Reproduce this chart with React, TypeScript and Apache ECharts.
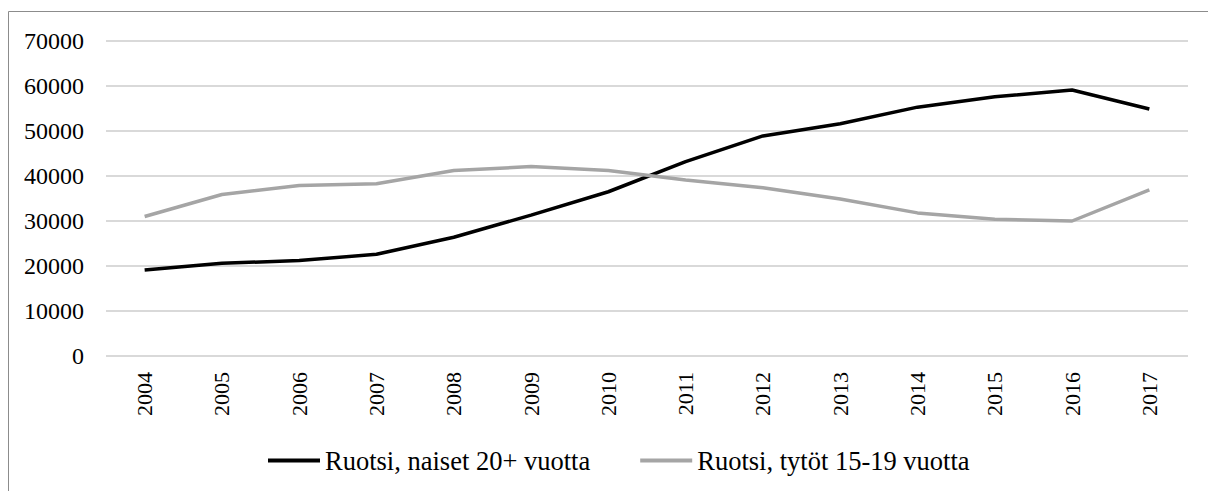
import React, { useEffect, useRef } from "react";
import * as echarts from "echarts";

const years = ["2004", "2005", "2006", "2007", "2008", "2009", "2010", "2011", "2012", "2013", "2014", "2015", "2016", "2017"];
const naiset = [19100, 20600, 21200, 22600, 26400, 31300, 36500, 43200, 48900, 51600, 55300, 57600, 59100, 54900];
const tytot = [31000, 35900, 37900, 38300, 41200, 42100, 41200, 39100, 37400, 34900, 31800, 30400, 30000, 36900];
const seriesNames = ["Ruotsi, naiset 20+ vuotta", "Ruotsi, tytöt 15-19 vuotta"];

const FONT = "Times New Roman";

export default function App() {
  const ref = useRef<HTMLDivElement>(null);
  useEffect(() => {
    if (!ref.current) return;
    const chart = echarts.init(ref.current, null, { renderer: "svg" });
    chart.setOption({
      animation: false,
      backgroundColor: "#ffffff",
      textStyle: { fontFamily: FONT },
      graphic: [
        {
          type: "rect",
          shape: { x: 8.5, y: 11.5, width: 1400, height: 700 },
          style: { fill: "none", stroke: "#8c8c8c", lineWidth: 1 },
          silent: true,
          z: -10,
        },
      ],
      grid: { left: 106, right: 20, top: 41, bottom: 135, containLabel: false },
      legend: {
        top: 442,
        left: 263,
        itemWidth: 52,
        itemHeight: 4,
        itemGap: 50,
        icon: "rect",
        textStyle: { fontFamily: FONT, fontSize: 26.5, color: "#000" },
        data: seriesNames,
      },
      xAxis: {
        type: "category",
        data: years,
        boundaryGap: true,
        axisLine: { show: false },
        axisTick: { show: false },
        axisLabel: { rotate: 90, fontFamily: FONT, fontSize: 22, color: "#000", margin: 16 },
      },
      yAxis: {
        type: "value",
        min: 0,
        max: 70000,
        interval: 10000,
        axisLine: { show: false },
        axisTick: { show: false },
        splitLine: { lineStyle: { color: "#d9d9d9", width: 2 } },
        axisLabel: {
          fontFamily: FONT,
          fontSize: 24,
          color: "#000",
          margin: 22,
          formatter: (v: number) => String(v),
        },
      },
      series: [
        {
          name: seriesNames[0],
          type: "line",
          data: naiset,
          symbol: "none",
          lineStyle: { color: "#000000", width: 3.5 },
          itemStyle: { color: "#000000" },
        },
        {
          name: seriesNames[1],
          type: "line",
          data: tytot,
          symbol: "none",
          lineStyle: { color: "#a5a5a5", width: 3.5 },
          itemStyle: { color: "#a5a5a5" },
        },
      ],
    });
    return () => chart.dispose();
  }, []);
  return (
    <div
      ref={ref}
      style={{ position: "fixed", left: 0, top: 0, width: 1208, height: 491 }}
    />
  );
}
